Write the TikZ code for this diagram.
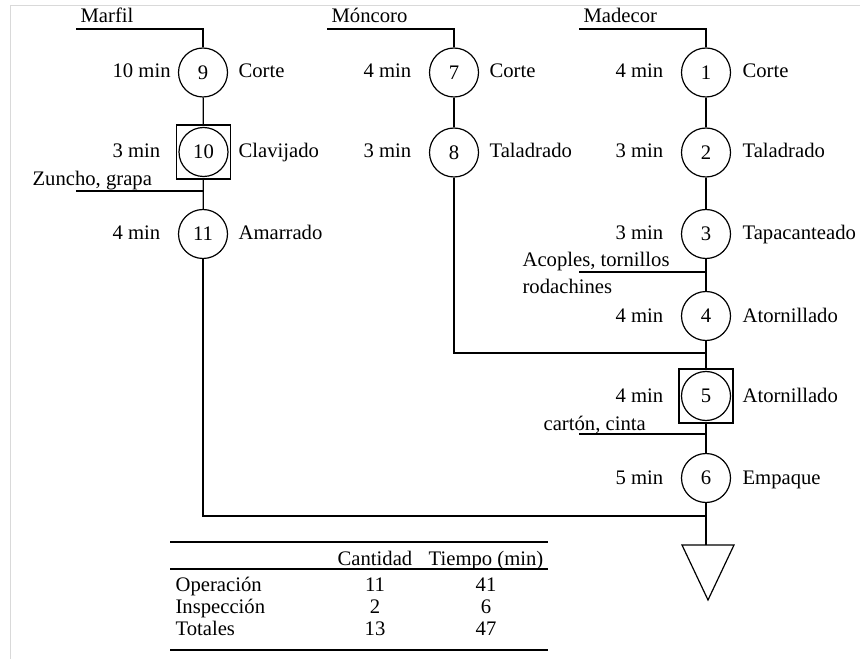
\documentclass[tikz,border=0pt]{standalone}
\usepackage{fontspec}
\setmainfont{Liberation Serif}
\newcommand{\fsz}{\fontsize{15.5}{18}\selectfont}
\begin{document}
\begin{tikzpicture}[x=0.75pt,y=-0.75pt, line width=0.9pt,
  op/.style={circle, draw, minimum size=36.75pt, inner sep=0pt, font=\fsz},
  insp/.style={draw, minimum size=40.5pt, inner sep=0pt},
  lbl/.style={anchor=base west, inner sep=0pt, font=\fsz},
  num/.style={anchor=base, inner sep=0pt, font=\fsz},
  rule/.style={line width=1.1pt}]
\useasboundingbox (0,0) rectangle (860,659);
% frame
\draw[black!15, line width=1.4pt] (10.5,659) -- (10.5,5.5) -- (860,5.5);
% Madecor column
\node[op] (c1) at (706,72.5) {1};
\node[op] (c2) at (706,152.5) {2};
\node[op] (c3) at (706,234) {3};
\node[op] (c4) at (706,316) {4};
\node[insp] (s5) at (706,396) {};
\node[op] (c5) at (706,396) {5};
\node[op] (c6) at (706,478) {6};
% Moncoro column
\node[op] (c7) at (454,72.5) {7};
\node[op] (c8) at (454,152.5) {8};
% Marfil column
\node[op] (c9) at (203,72.5) {9};
\node[insp] (s10) at (203.5,152) {};
\node[op] (c10) at (203.5,152) {10};
\node[op] (c11) at (203,234) {11};
% headers
\node[lbl] (tMar) at (80,23) {Marfil};
\node[lbl] (tMon) at (331,23) {Móncoro};
\node[lbl] (tMad) at (583,23) {Madecor};
\coordinate (hMar) at (76,29);
\coordinate (hMon) at (327,29);
\coordinate (hMad) at (579,29);
% times
\node[lbl] (m9) at (112,78) {10 min};
\node[lbl] (m10) at (112,158) {3 min};
\node[lbl] (m11) at (112,240) {4 min};
\node[lbl] (m7) at (363,78) {4 min};
\node[lbl] (m8) at (363,158) {3 min};
\node[lbl] (m1) at (615,78) {4 min};
\node[lbl] (m2) at (615,158) {3 min};
\node[lbl] (m3) at (615,240) {3 min};
\node[lbl] (m4) at (615,322) {4 min};
\node[lbl] (m5) at (615,402) {4 min};
\node[lbl] (m6) at (615,484) {5 min};
% operation names
\node[lbl] (n9) at (238,78) {Corte};
\node[lbl] (n10) at (238,158) {Clavijado};
\node[lbl] (n11) at (238,240) {Amarrado};
\node[lbl] (n7) at (489,78) {Corte};
\node[lbl] (n8) at (489,158) {Taladrado};
\node[lbl] (n1) at (742,78) {Corte};
\node[lbl] (n2) at (742,158) {Taladrado};
\node[lbl] (n3) at (742,240) {Tapacanteado};
\node[lbl] (n4) at (742,322) {Atornillado};
\node[lbl] (n5) at (742,402) {Atornillado};
\node[lbl] (n6) at (742,484) {Empaque};
% material inputs
\node[lbl] (tz) at (32,186) {Zuncho, grapa};
\node[lbl] (ta) at (522,267) {Acoples, tornillos};
\node[lbl] (tr) at (522,293) {rodachines};
\node[lbl] (tc) at (543,430) {cartón, cinta};
\coordinate (iz) at (76,191);
\coordinate (ia) at (579,272);
\coordinate (ic) at (579,434);
\coordinate (j1) at (706,353);
\coordinate (j2) at (706,516);
\coordinate (tri) at (706,545);
% connectors
\draw (hMar) -- (hMar -| c9) -- (c9);
\draw (c9) -- (s10);
\draw (s10) -- (c11);
\draw (iz) -- (iz -| s10);
\draw (c11) -- (c11 |- j2) -- (j2);
\draw (hMon) -- (hMon -| c7) -- (c7);
\draw (c7) -- (c8);
\draw (c8) -- (c8 |- j1) -- (j1);
\draw (hMad) -- (hMad -| c1) -- (c1);
\draw (c1) -- (c2);
\draw (c2) -- (c3);
\draw (c3) -- (c4);
\draw (ia) -- (ia -| c3);
\draw (c4) -- (s5);
\draw (s5) -- (c6);
\draw (ic) -- (ic -| c6);
\draw (c6) -- (tri);
% storage triangle
\draw[line join=miter] (682,545) -- (734,545) -- (708,600) -- cycle;
% table
\draw[rule] (170,542) -- (548,542);
\draw[rule] (170,569) -- (548,569);
\draw[rule] (170,650) -- (548,650);
\node[num] (hc) at (375,565) {Cantidad};
\node[num] (ht) at (486,565) {Tiempo (min)};
\node[lbl] (r1) at (175,591) {Operación};
\node[lbl] (r2) at (175,613) {Inspección};
\node[lbl] (r3) at (175,635) {Totales};
\node[num] (r1a) at (375,591) {11};
\node[num] (r1b) at (486,591) {41};
\node[num] (r2a) at (375,613) {2};
\node[num] (r2b) at (486,613) {6};
\node[num] (r3a) at (375,635) {13};
\node[num] (r3b) at (486,635) {47};
\end{tikzpicture}
\end{document}
